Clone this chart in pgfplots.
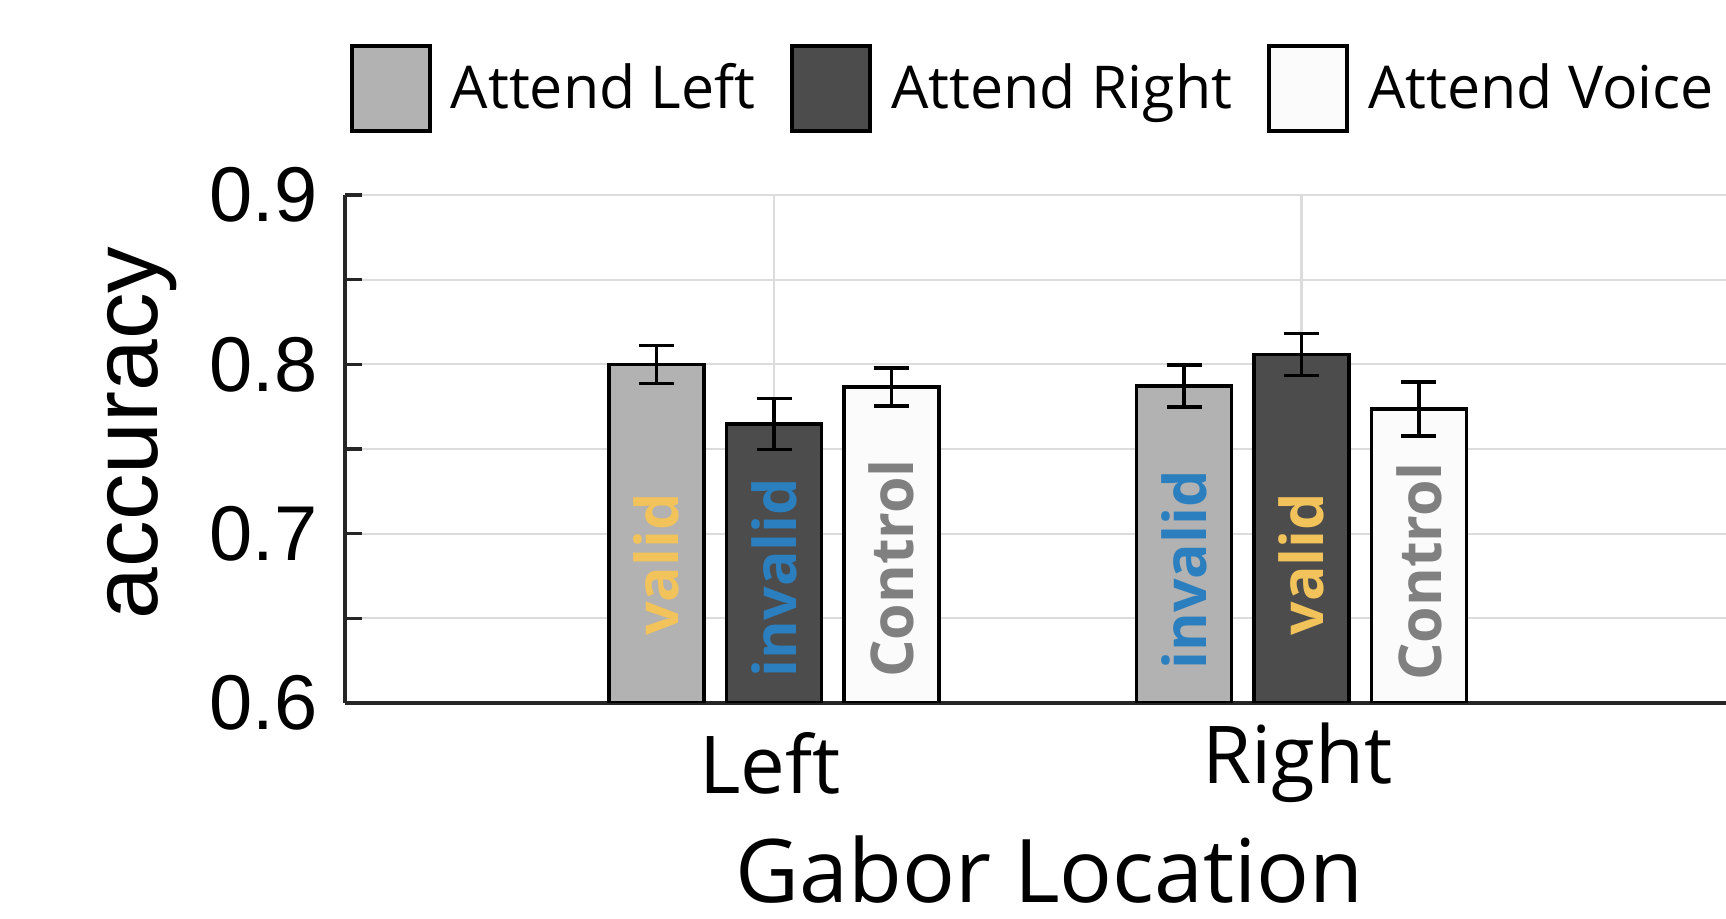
\documentclass[border=0pt]{standalone}
\usepackage{pgfplots}
\pgfplotsset{compat=1.18}
\usepackage{fontspec}
\setmainfont{Open Sans}
\newfontfamily\arialf{Liberation Sans}
\newfontfamily\labfont{Open Sans}
\definecolor{barL}{gray}{0.70}
\definecolor{barR}{gray}{0.30}
\definecolor{barV}{gray}{0.985}
\definecolor{validc}{HTML}{F2C25B}
\definecolor{invalidc}{HTML}{2B7FBF}
\definecolor{ctrlc}{HTML}{808080}
\definecolor{gridc}{HTML}{DCDCDC}
\definecolor{axc}{HTML}{262626}
\pgfplotsset{
  mybar/.style={ybar, bar width=0.18, bar shift=0pt, draw=black, line width=1.0pt,
    error bars/y dir=both, error bars/y explicit,
    error bars/error mark=-,
    error bars/error bar style={black, line width=1.0pt},
    error bars/error mark options={black, rotate=90, line width=1.0pt, mark size=0.175cm},
    legend image code/.code={\draw[#1, line width=1.1pt] (0cm,-0.425cm) rectangle (0.78cm,0.425cm);}},
}
\newcommand\barlab{\labfont\bfseries\fontsize{16.8pt}{20pt}\selectfont}
\begin{document}
\begin{tikzpicture}
\begin{axis}[
  name=ax,
  scale only axis,
  width=13.81cm, height=5.08cm,
  xmin=0.1867, xmax=2.8047,
  ymin=0.6, ymax=0.9,
  axis x line=bottom, axis y line=left,
  axis line style={-, draw=axc, line width=0.9pt},
  xtick={1,2},
  xticklabels={Left,\raisebox{0.1cm}{Right}},
  ytick={0.6,0.65,0.7,0.75,0.8,0.85,0.9},
  yticklabels={0.6,,0.7,,0.8,,0.9},
  tick align=inside,
  major tick length=0.17cm,
  tick style={draw=axc, line width=0.9pt},
  grid=major,
  major grid style={draw=gridc, line width=0.65pt},
  xticklabel style={font=\labfont\fontsize{22.7pt}{27pt}\selectfont, anchor=base, inner sep=0pt, yshift=-0.91cm, xshift=-0.04cm},
  yticklabel style={font=\arialf\fontsize{22.1pt}{26pt}\selectfont, anchor=east, inner sep=0pt, xshift=-0.27cm},
  xlabel={Gabor Location},
  xlabel style={font=\labfont\fontsize{25pt}{30pt}\selectfont, at={(axis description cs:0.5105,-0.392)}, anchor=base, inner sep=0pt},
  ylabel={accuracy},
  ylabel style={font=\arialf\fontsize{26.5pt}{30pt}\selectfont, at={(axis description cs:-0.1354,0.5315)}, anchor=base, inner sep=0pt},
  legend columns=3,
  legend style={at={(axis description cs:0.0036,1.2096)}, anchor=west, draw=none, fill=none,
    inner sep=0pt, outer sep=0pt,
    font=\labfont\fontsize{16.8pt}{20pt}\selectfont,
    /tikz/every odd column/.style={column sep=0.12cm},
    /tikz/every even column/.style={column sep=0.28cm}},
  legend cell align=left,
]
\addplot[mybar, fill=barL] coordinates {(0.7773,0.8000) +- (0,0.0112) (1.7773,0.7871) +- (0,0.0124)};
\addlegendentry{Attend Left}
\addplot[mybar, fill=barR] coordinates {(1.0000,0.7647) +- (0,0.0150) (2.0000,0.8057) +- (0,0.0124)};
\addlegendentry{Attend Right}
\addplot[mybar, fill=barV] coordinates {(1.2227,0.7865) +- (0,0.0112) (2.2227,0.7737) +- (0,0.0159)};
\addlegendentry{Attend Voice}
\node[rotate=90, font=\barlab, text=validc] at (axis cs:0.7773,0.6818) {valid};
\node[rotate=90, font=\barlab, text=invalidc] at (axis cs:1.0000,0.6741) {invalid};
\node[rotate=90, font=\barlab, text=ctrlc] at (axis cs:1.2227,0.6794) {Control};
\node[rotate=90, font=\barlab, text=invalidc] at (axis cs:1.7773,0.6785) {invalid};
\node[rotate=90, font=\barlab, text=validc] at (axis cs:2.0000,0.6821) {valid};
\node[rotate=90, font=\barlab, text=ctrlc] at (axis cs:2.2227,0.6777) {Control};
\end{axis}
\pgfresetboundingbox
\path[use as bounding box] ([shift={(-3.45cm,-2.16cm)}]ax.south west) rectangle ([shift={(0cm,1.95cm)}]ax.north east);
\end{tikzpicture}
\end{document}
